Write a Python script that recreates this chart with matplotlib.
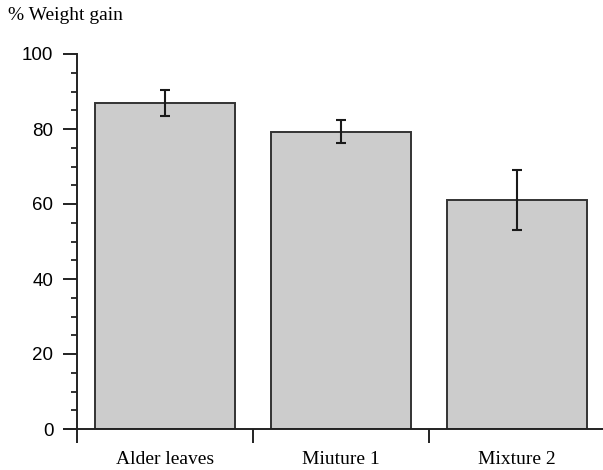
import matplotlib.pyplot as plt
import numpy as np

categories = ['Alder leaves', 'Miuture 1', 'Mixture 2']
weight_gain = [86.9, 79.3, 61.1]
errors = [3.5, 3.0, 8.0]

W, H = 603, 470
fig = plt.figure(figsize=(W / 100, H / 100), dpi=100)

# axes in pixel coordinates (left 64, bottom 429, top 54, right 603)
left, right, top, bottom = 64, 603, 54, 429
ax = fig.add_axes([left / W, 1 - bottom / H, (right - left) / W, (bottom - top) / H])

x = np.arange(len(categories))
ax.bar(x, weight_gain, width=0.795, color='#cccccc', edgecolor='#333333',
       linewidth=1.4, zorder=2)
ax.errorbar(x, weight_gain, yerr=errors, fmt='none', ecolor='#1a1a1a',
            elinewidth=1.5, capsize=3.6, capthick=1.5, zorder=3)

cat_px = 176.0
ax.set_xlim(-0.5 - 13 / cat_px, -0.5 + (right - 77) / cat_px)
ax.set_ylim(0, 100)

for s in ['top', 'right']:
    ax.spines[s].set_visible(False)
ax.spines['left'].set_position(('data', -0.5))
ax.spines['left'].set_linewidth(1.4)
ax.spines['bottom'].set_linewidth(1.4)
ax.spines['left'].set_color('#222222')
ax.spines['bottom'].set_color('#222222')

# y ticks
ax.set_yticks([0, 20, 40, 60, 80, 100])
ax.set_yticks(np.arange(0, 101, 5), minor=True)
ax.tick_params(axis='y', which='major', length=10, width=1.4, color='#222222',
               labelsize=13.5, pad=7, direction='out')
ax.tick_params(axis='y', which='minor', length=4.5, width=1.3, color='#222222',
               direction='out')
for lab in ax.get_yticklabels():
    lab.set_family(['Liberation Sans', 'DejaVu Sans'])

# x: boundary ticks and centered labels
ax.set_xticks([-0.5, 0.5, 1.5])
ax.set_xticklabels([])
ax.set_xticks(x, minor=True)
ax.set_xticklabels(categories, minor=True, family=['Liberation Serif', 'DejaVu Serif'],
                   fontsize=14)
ax.tick_params(axis='x', which='major', length=10, width=1.4, color='#222222',
               direction='out')
ax.tick_params(axis='x', which='minor', length=0, pad=16)

fig.text(8 / W, 1 - 16 / H, '% Weight gain', family=['Liberation Serif', 'DejaVu Serif'],
         fontsize=14, va='center', ha='left')

fig.savefig('out.png', dpi=100)
